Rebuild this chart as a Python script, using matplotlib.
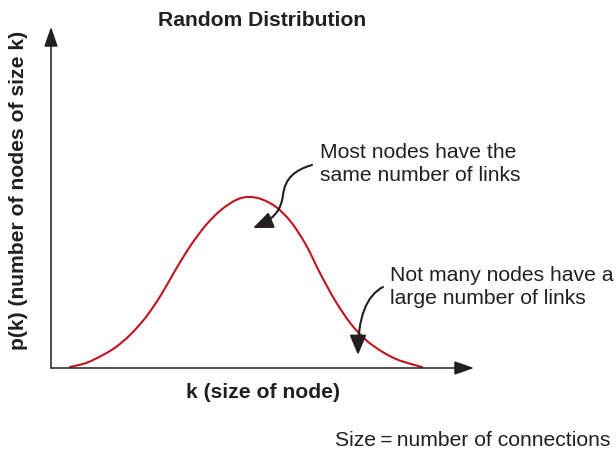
import numpy as np
import matplotlib
matplotlib.use('Agg')
import matplotlib.pyplot as plt
from matplotlib.path import Path
from matplotlib.patches import PathPatch, FancyArrowPatch

# curve (k = size of node, p = p(k)), arbitrary units
k = [19, 35, 50, 65, 80, 95, 110, 125, 140, 155, 170, 185, 197,
     210, 225, 240, 255, 270, 285, 300, 315, 330, 345, 360, 371]
p = [1, 5, 12, 21, 34, 51, 73, 99, 123, 143, 158, 168, 171,
     169, 161, 146, 123, 93, 66, 44, 28, 17, 9, 4, 1]

title = 'Random Distribution'
xlabel = 'k (size of node)'
ylabel = 'p(k) (number of nodes of size k)'
note_peak = 'Most nodes have the\nsame number of links'
note_tail = 'Not many nodes have a\nlarge number of links'
footnote = 'Size\u2009=\u2009number of connections'

W, H = 616, 449
dark = '#231f20'
red = '#c1121f'
plt.rcParams['font.family'] = ['Liberation Sans', 'DejaVu Sans']


def smooth(xs, ys):
    # catmull-rom through the points, as cubic bezier pieces
    pts = np.column_stack([xs, ys]).astype(float)
    n = len(pts)
    verts = [pts[0]]
    codes = [Path.MOVETO]
    for i in range(n - 1):
        p0 = pts[max(i - 1, 0)]
        p1 = pts[i]
        p2 = pts[i + 1]
        p3 = pts[min(i + 2, n - 1)]
        verts += [p1 + (p2 - p0) / 6, p2 - (p3 - p1) / 6, p2]
        codes += [Path.CURVE4] * 3
    return Path(verts, codes)


def px(x, y):
    return x / W, 1 - y / H


fig = plt.figure(figsize=(W / 100, H / 100), dpi=100)
# axes origin at (51,368) px, one data unit per pixel
ax = fig.add_axes([51 / W, (H - 368) / H, 423 / W, 341 / H])
ax.set_xlim(0, 423)
ax.set_ylim(0, 341)
ax.axis('off')

ax.add_patch(PathPatch(smooth(k, p), fill=False, edgecolor=red, lw=1.5,
                       capstyle='round', clip_on=False))

# axes with arrow heads
for tip in [(1, 0), (0, 1)]:
    ax.annotate('', xy=tip, xytext=(0, 0), xycoords='axes fraction',
                arrowprops=dict(arrowstyle='-|>,head_length=1.2,head_width=0.42',
                                mutation_scale=10, color=dark, lw=1.1,
                                shrinkA=0, shrinkB=0))

C4 = Path.CURVE4
arrow1 = Path([(261, 203), (244, 198), (234, 190), (232, 173),
               (230, 156), (221, 148), (202, 140)],
              [Path.MOVETO, C4, C4, C4, C4, C4, C4])
arrow2 = Path([(332, 81), (315, 72), (307, 50), (307, 13)],
              [Path.MOVETO, C4, C4, C4])
for pth in [arrow1, arrow2]:
    ax.add_patch(FancyArrowPatch(path=pth, transform=ax.transData,
                                 arrowstyle='-|>,head_length=1.2,head_width=0.5',
                                 mutation_scale=10, color=dark, lw=1.5,
                                 clip_on=False))

fs = 15.2
fig.text(*px(262, 20), title, fontsize=fs, fontweight='bold', color=dark,
         ha='center', va='center')
fig.text(*px(263, 393), xlabel, fontsize=fs, fontweight='bold', color=dark,
         ha='center', va='center')
fig.text(*px(19, 190), ylabel, fontsize=fs, fontweight='bold', color=dark,
         ha='center', va='center', rotation=90)
fig.text(*px(320, 164), note_peak, fontsize=fs, color=dark,
         ha='left', va='center', linespacing=1.26)
fig.text(*px(390, 287), note_tail, fontsize=fs, color=dark,
         ha='left', va='center', linespacing=1.26)
fig.text(*px(335, 440), footnote, fontsize=fs, color=dark,
         ha='left', va='center')

fig.savefig('out.png', dpi=100)
